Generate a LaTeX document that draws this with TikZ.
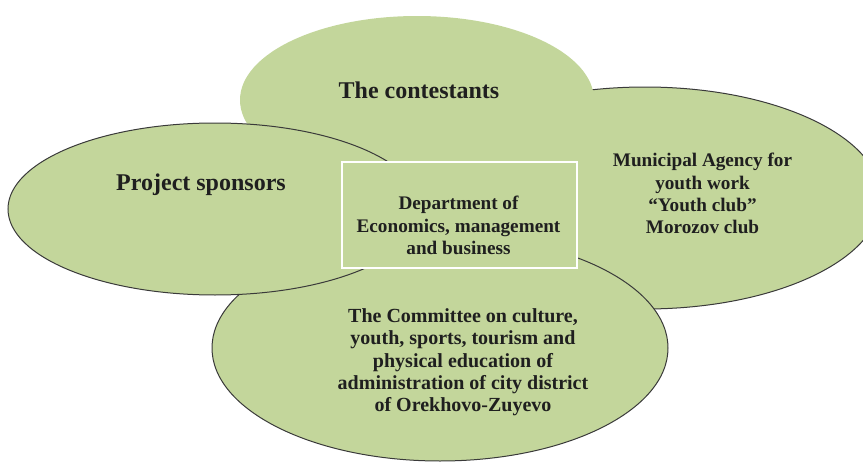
\documentclass[tikz,border=0pt]{standalone}
\usepackage{fontspec}
\setmainfont{Liberation Serif}
\usetikzlibrary{shapes.geometric}
\definecolor{myg}{RGB}{195,214,155}
\definecolor{myd}{RGB}{58,58,58}

\begin{document}
\begin{tikzpicture}[x=1pt, y=-1pt,
		MyBlob/.style={ellipse, fill=myg, inner sep=0pt, outer sep=0pt},
		MyLine/.style={draw=myd, line width=1pt},
		MyText/.style={align=center, text=black!88, inner sep=0pt, font=\fontsize{19.2}{22.3}\selectfont\bfseries},
		MyBig/.style={MyText, font=\fontsize{24}{28}\selectfont\bfseries}]
		\useasboundingbox (0,0) rectangle (863,463);
		\clip (0,0) rectangle (863,463);
		% back to front
		\node [MyBlob, MyLine, minimum width=472, minimum height=222] (agency) at (645,198) {};
		\node [MyBlob, MyLine, minimum width=456, minimum height=226] (committee) at (440,348) {};
		\node [MyBlob, minimum width=354, minimum height=168] (contest) at (417,100) {};
		\node [MyBlob, MyLine, minimum width=414, minimum height=172] (sponsors) at (215,209) {};
		\node [draw=white, line width=1.2pt, fill=myg, minimum width=235, minimum height=106, inner sep=0pt] (dept) at (459.5,215) {};
		% labels
		\node [MyBig] (contesttext) at (419,90) {The contestants};
		\node [MyBig] (sponsorstext) at (201,185) {Project sponsors};
		\node [MyText] (depttext) at (458.5,225.5) {Department of\\Economics, management\\and business};
		\node [MyText] (agencytext) at (702.5,193.7) {Municipal Agency for\\youth work\\“Youth club”\\Morozov club};
		\node [MyText, font=\fontsize{20}{22.3}\selectfont\bfseries] (committeetext) at (463,362.5) {The Committee on culture,\\youth, sports, tourism and\\physical education of\\administration of city district\\of Orekhovo-Zuyevo};
	\end{tikzpicture}
\end{document}
